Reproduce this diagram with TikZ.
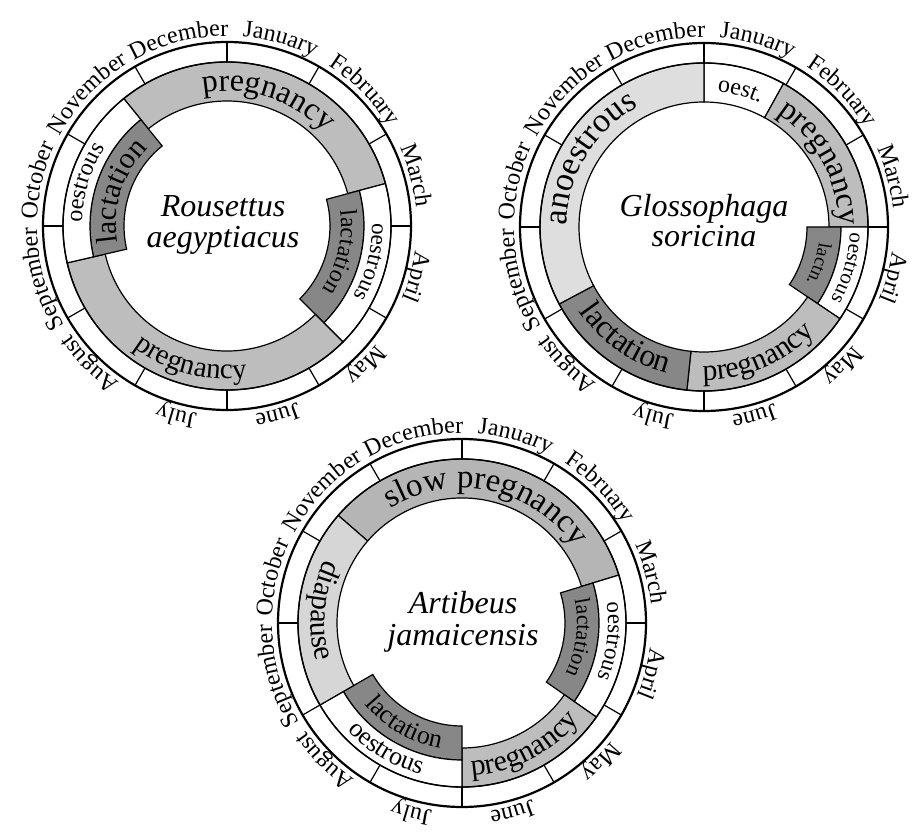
\documentclass[tikz,border=0pt]{standalone}
\usepackage{fontspec}
\setmainfont{Liberation Serif}
\usetikzlibrary{decorations.text}

\definecolor{pregcol}{gray}{0.74}
\definecolor{slowcol}{gray}{0.71}
\definecolor{lactcol}{gray}{0.53}
\definecolor{anoecol}{gray}{0.87}
\definecolor{diapcol}{gray}{0.84}

\tikzset{
  outerring/.style={line width=2.2pt},
  innerring/.style={line width=1.4pt},
  monthtick/.style={line width=1.2pt},
  phasebox/.style={draw=black,line width=1.2pt,line join=miter},
  species/.style={anchor=base,inner sep=0pt,font=\fontsize{32}{32}\selectfont\itshape},
}

% annular sector between two clock angles (degrees clockwise from 12 o'clock)
\newcommand\phaseseg[5]{%
  \pgfmathsetmacro\segA{90-(#1)}%
  \pgfmathsetmacro\segB{90-(#2)}%
  \filldraw[phasebox,fill=#5] (\segA:#4pt) arc[start angle=\segA,end angle=\segB,radius=#4pt]
    -- (\segB:#3pt) arc[start angle=\segB,end angle=\segA,radius=#3pt] -- cycle;%
}
% text running clockwise, letter tops pointing outward
\newcommand\cwlabel[4]{%
  \pgfmathsetmacro\lblA{90-(#1)+75}%
  \pgfmathsetmacro\lblB{90-(#1)-75}%
  \path[decorate,decoration={text along path,text align={center},
      text={|\fontsize{#3}{#3}\selectfont|#4}}]
    (\lblA:#2pt) arc[start angle=\lblA,end angle=\lblB,radius=#2pt];%
}
% text running counter-clockwise, letter tops pointing inward
\newcommand\ccwlabel[4]{%
  \pgfmathsetmacro\lblA{90-(#1)-75}%
  \pgfmathsetmacro\lblB{90-(#1)+75}%
  \path[decorate,decoration={text along path,text align={center},
      text={|\fontsize{#3}{#3}\selectfont|#4}}]
    (\lblA:#2pt) arc[start angle=\lblA,end angle=\lblB,radius=#2pt];%
}
% calendar ring: two circles, month ticks and month names
\newcommand\monthring{%
  \draw[innerring] (0,0) circle[radius=164pt];
  \draw[outerring] (0,0) circle[radius=184pt];
  \foreach \k in {0,...,11}{\draw[monthtick] ({90-30*\k}:164pt) -- ({90-30*\k}:184pt);}
  \cwlabel{16}{190}{24}{January}
  \cwlabel{45.5}{190}{24}{February}
  \cwlabel{75}{190}{24}{March}
  \cwlabel{105}{190}{24}{April}
  \cwlabel{135}{190}{24}{May}
  \cwlabel{165}{190}{24}{June}
  \cwlabel{195}{190}{24}{July}
  \cwlabel{225}{190}{24}{August}
  \cwlabel{254}{190}{24}{September}
  \cwlabel{283.5}{190}{24}{October}
  \cwlabel{313.5}{190}{24}{November}
  \cwlabel{345.5}{190}{24}{December}
}

\begin{document}
\begin{tikzpicture}
\useasboundingbox[fill=white] (0,0) rectangle (915pt,839pt);

% Rousettus aegyptiacus
\begin{scope}[shift={(227pt,613pt)}]
  \phaseseg{321}{435}{125}{164}{pregcol}
  \phaseseg{75}{135}{103}{137}{lactcol}
  \phaseseg{75}{135}{137}{164}{white}
  \phaseseg{135}{257}{125}{164}{pregcol}
  \phaseseg{257}{321}{103}{137}{lactcol}
  \phaseseg{257}{321}{137}{164}{white}
  \monthring
  \cwlabel{18}{135}{32}{pregnancy}
  \cwlabel{103}{114}{24}{lactation}
  \cwlabel{104}{145}{23}{oestrous}
  \ccwlabel{195}{153}{29}{pregnancy}
  \cwlabel{288}{111}{30}{lactation}
  \cwlabel{287}{145}{24}{oestrous}
  \node[species] (rousA) at (-4pt,9pt) {Rousettus};
  \node[species] (rousB) at (-4pt,-22pt) {aegyptiacus};
\end{scope}

% Glossophaga soricina
\begin{scope}[shift={(704pt,612pt)}]
  \phaseseg{0}{29}{125}{164}{white}
  \phaseseg{29}{90}{125}{164}{pregcol}
  \phaseseg{90}{124}{103}{137}{lactcol}
  \phaseseg{90}{124}{137}{164}{white}
  \phaseseg{124}{186}{125}{164}{pregcol}
  \phaseseg{186}{242}{125}{164}{lactcol}
  \phaseseg{242}{360}{125}{164}{anoecol}
  \monthring
  \cwlabel{15}{136}{24}{oest.}
  \cwlabel{61}{135}{32}{pregnancy}
  \cwlabel{108}{116}{19}{lactn.}
  \cwlabel{106}{146}{21}{oestrous}
  \ccwlabel{157}{153}{30}{pregnancy}
  \ccwlabel{215}{151}{32}{lactation}
  \cwlabel{301}{137}{34}{anoestrous}
  \node[species] (glosA) at (0pt,10pt) {Glossophaga};
  \node[species] (glosB) at (0pt,-20pt) {soricina};
\end{scope}

% Artibeus jamaicensis
\begin{scope}[shift={(462pt,216pt)}]
  \phaseseg{311}{433}{125}{164}{slowcol}
  \phaseseg{73}{125}{103}{137}{lactcol}
  \phaseseg{73}{125}{137}{164}{white}
  \phaseseg{125}{180}{125}{164}{pregcol}
  \phaseseg{180}{240}{103}{137}{lactcol}
  \phaseseg{180}{240}{137}{164}{white}
  \phaseseg{240}{311}{125}{164}{diapcol}
  \monthring
  \cwlabel{12}{135}{33}{slow pregnancy}
  \cwlabel{97}{115}{22}{lactation}
  \cwlabel{97}{146}{23}{oestrous}
  \ccwlabel{153}{153}{30}{pregnancy}
  \ccwlabel{210}{127}{26}{lactation}
  \ccwlabel{211}{157}{26}{oestrous}
  \ccwlabel{275}{151}{30}{diapause}
  \node[species] (artiA) at (1pt,10pt) {Artibeus};
  \node[species] (artiB) at (1pt,-22pt) {jamaicensis};
\end{scope}
\end{tikzpicture}
\end{document}
